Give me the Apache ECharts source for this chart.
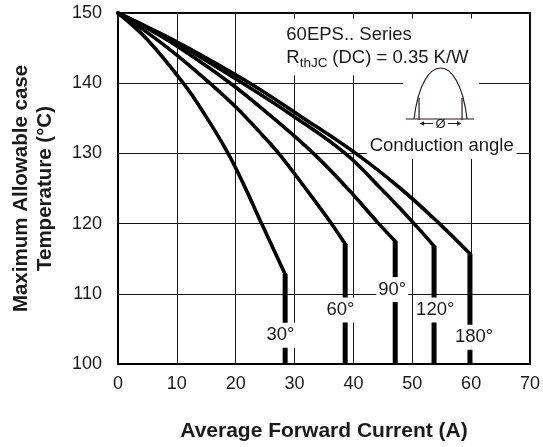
<!DOCTYPE html>
<html><head><meta charset="utf-8">
<script src="https://cdn.jsdelivr.net/npm/echarts@6/dist/echarts.min.js"></script>
<style>html,body{margin:0;padding:0;background:#fff}#c{width:543px;height:447px}</style>
</head><body><div id="c"></div>
<script>
// ---- data ----
const xTicks = [0, 10, 20, 30, 40, 50, 60, 70];
const yTicks = [100, 110, 120, 130, 140, 150];
const angleLabels = ['30°', '60°', '90°', '120°', '180°'];
const curve30  = [[0,150],[5,146.2],[11.1,140],[15,135.2],[18.7,130],[21.5,125.3],[24.4,120],[28.4,112.8]];
const curve60  = [[0,150],[5,147.2],[10,144.0],[15.6,140],[20,136.6],[24,133.1],[27.3,130],[32.5,124.3],[36.1,120.2],[38.6,117.1]];
const curve90  = [[0,150],[5,147.8],[10,145.3],[19.1,140],[26,135.3],[33.2,130],[39,125],[44.3,120],[47.1,117.5]];
const curve120 = [[0,150],[5,147.9],[10,145.7],[21.2,140],[30,135.2],[38.6,130],[45,124.7],[50.3,120],[53.7,116.8]];
const curve180 = [[0,150],[5,148.0],[10,145.9],[22.4,140],[31,135.3],[40.4,130],[48,125],[54.6,120],[59.8,115.7]];
const curves = [curve30, curve60, curve90, curve120, curve180];

// annotation anchors (data coordinates)
const labelAnchors = [[27.6,104.1],[37.8,107.7],[46.6,110.6],[53.9,107.7],[60.5,103.8]];

const FONT = '"Liberation Sans", Arial, Helvetica, sans-serif';
const xMin = xTicks[0], xMax = xTicks[xTicks.length-1], xInt = xTicks[1]-xTicks[0];
const yMin = yTicks[0], yMax = yTicks[yTicks.length-1], yInt = yTicks[1]-yTicks[0];

const series = [];
curves.forEach((c, i) => {
  series.push({
    type: 'line', data: c, smooth: 0.4, symbol: 'none', z: 3,
    lineStyle: { color: '#000', width: 3.6, join: 'round', cap: 'round' }
  });
  const knee = c[c.length - 1];
  series.push({
    type: 'line', data: [knee, [knee[0], yMin]], symbol: 'none', z: 3,
    lineStyle: { color: '#000', width: 5 }
  });
});

const chart = echarts.init(document.getElementById('c'), null, { renderer: 'canvas' });
chart.setOption({
  animation: false,
  backgroundColor: '#fff',
  grid: { left: 118, right: 11, top: 13, bottom: 75, show: true, borderColor: '#000', borderWidth: 2 },
  xAxis: {
    type: 'value', min: xMin, max: xMax, interval: xInt,
    name: 'Average Forward Current (A)', nameLocation: 'middle', nameGap: 57,
    nameTextStyle: { fontFamily: FONT, fontSize: 21, fontWeight: 'bold', color: '#1a1a1a' },
    axisLine: { lineStyle: { color: '#000', width: 2 } },
    axisTick: { show: false },
    axisLabel: { fontFamily: FONT, fontSize: 18, color: '#1a1a1a', margin: 11 },
    splitLine: { show: true, lineStyle: { color: '#111', width: 1 } }
  },
  yAxis: {
    type: 'value', min: yMin, max: yMax, interval: yInt,
    name: 'Maximum Allowable case\nTemperature (°C)', nameLocation: 'middle', nameGap: 61,
    nameTextStyle: { fontFamily: FONT, fontSize: 20.5, fontWeight: 'bold', color: '#1a1a1a', lineHeight: 24 },
    axisLine: { lineStyle: { color: '#000', width: 2 } },
    axisTick: { show: false },
    axisLabel: { fontFamily: FONT, fontSize: 18, color: '#1a1a1a', margin: 16 },
    splitLine: { show: true, lineStyle: { color: '#111', width: 1 } }
  },
  series: series
});

function P(x, y) { return chart.convertToPixel({ gridIndex: 0 }, [x, y]); }

const g = [];
const Z = 100;
// curve labels
angleLabels.forEach((t, i) => {
  const p = P(labelAnchors[i][0], labelAnchors[i][1]);
  g.push({ type: 'text', x: p[0], y: p[1], z: Z,
    style: { text: t, font: '18.5px ' + FONT, fill: '#1a1a1a', align: 'center', verticalAlign: 'middle',
      backgroundColor: '#fff', padding: [3, 2, 3, 2] } });
});

// header block
const hb1 = P(27.3, 149.2), hb2 = P(61.0, 141.1);
g.push({ type: 'rect', z: Z, shape: { x: hb1[0], y: hb1[1], width: hb2[0]-hb1[0], height: hb2[1]-hb1[1] }, style: { fill: '#fff' } });
const t1 = P(28.6, 146.9);
g.push({ type: 'text', z: Z + 1, x: t1[0], y: t1[1],
  style: { text: '60EPS.. Series', font: '18.5px ' + FONT, fill: '#1a1a1a', align: 'left', verticalAlign: 'middle' } });
const t2 = P(28.6, 143.6);
g.push({ type: 'text', z: Z + 1, x: t2[0], y: t2[1],
  style: { text: 'R', font: '18.5px ' + FONT, fill: '#1a1a1a', align: 'left', verticalAlign: 'middle' } });
g.push({ type: 'text', z: Z + 1, x: t2[0] + 13.5, y: t2[1] + 5,
  style: { text: 'thJC', font: '13.5px ' + FONT, fill: '#1a1a1a', align: 'left', verticalAlign: 'middle' } });
g.push({ type: 'text', z: Z + 1, x: t2[0] + 46, y: t2[1],
  style: { text: '(DC) = 0.35 K/W', font: '18.5px ' + FONT, fill: '#1a1a1a', align: 'left', verticalAlign: 'middle' } });

// conduction-angle icon
const ib = P(50.3, 134.9); // base-left of hump
const bx = ib[0], by = ib[1], w = 53, h = 51;
const ir1 = P(48.4, 141.7), ir2 = P(61.3, 131.6);
g.push({ type: 'rect', z: Z, shape: { x: ir1[0], y: ir1[1], width: ir2[0]-ir1[0], height: ir2[1]-ir1[1] }, style: { fill: '#fff' } });
const ic = '#2a1c1c';
g.push({ type: 'bezierCurve', z: Z + 1,
  shape: { x1: bx, y1: by, x2: bx + w, y2: by, cpx1: bx + w*0.15, cpy1: by - h*1.333, cpx2: bx + w*0.85, cpy2: by - h*1.333 },
  style: { stroke: ic, lineWidth: 1.2, fill: null } });
g.push({ type: 'line', z: Z + 1, shape: { x1: bx - 8, y1: by, x2: bx + 60, y2: by }, style: { stroke: ic, lineWidth: 1.2 } });
g.push({ type: 'line', z: Z + 1, shape: { x1: bx + 5, y1: by + 1, x2: bx + 5, y2: by - 21 }, style: { stroke: ic, lineWidth: 1.2 } });
g.push({ type: 'line', z: Z + 1, shape: { x1: bx + 48, y1: by + 1, x2: bx + 48, y2: by - 21 }, style: { stroke: ic, lineWidth: 1.2 } });
const ay = by + 4.5;
g.push({ type: 'line', z: Z + 1, shape: { x1: bx + 9, y1: ay, x2: bx + 19, y2: ay }, style: { stroke: ic, lineWidth: 1 } });
g.push({ type: 'polygon', z: Z + 1, shape: { points: [[bx + 5.5, ay], [bx + 10, ay - 2.3], [bx + 10, ay + 2.3]] }, style: { fill: ic } });
g.push({ type: 'line', z: Z + 1, shape: { x1: bx + 34, y1: ay, x2: bx + 44, y2: ay }, style: { stroke: ic, lineWidth: 1 } });
g.push({ type: 'polygon', z: Z + 1, shape: { points: [[bx + 47.5, ay], [bx + 43, ay - 2.3], [bx + 43, ay + 2.3]] }, style: { fill: ic } });
g.push({ type: 'text', z: Z + 1, x: bx + 26.5, y: ay + 0.5,
  style: { text: 'Ø', font: '13px ' + FONT, fill: '#1a1a1a', align: 'center', verticalAlign: 'middle' } });

const ca = P(55.0, 131.0);
g.push({ type: 'text', z: Z + 1, x: ca[0], y: ca[1],
  style: { text: 'Conduction angle', font: '18.5px ' + FONT, fill: '#1a1a1a', align: 'center', verticalAlign: 'middle',
    backgroundColor: '#fff', padding: [3, 3, 3, 3] } });

chart.setOption({ graphic: g });
</script></body></html>
